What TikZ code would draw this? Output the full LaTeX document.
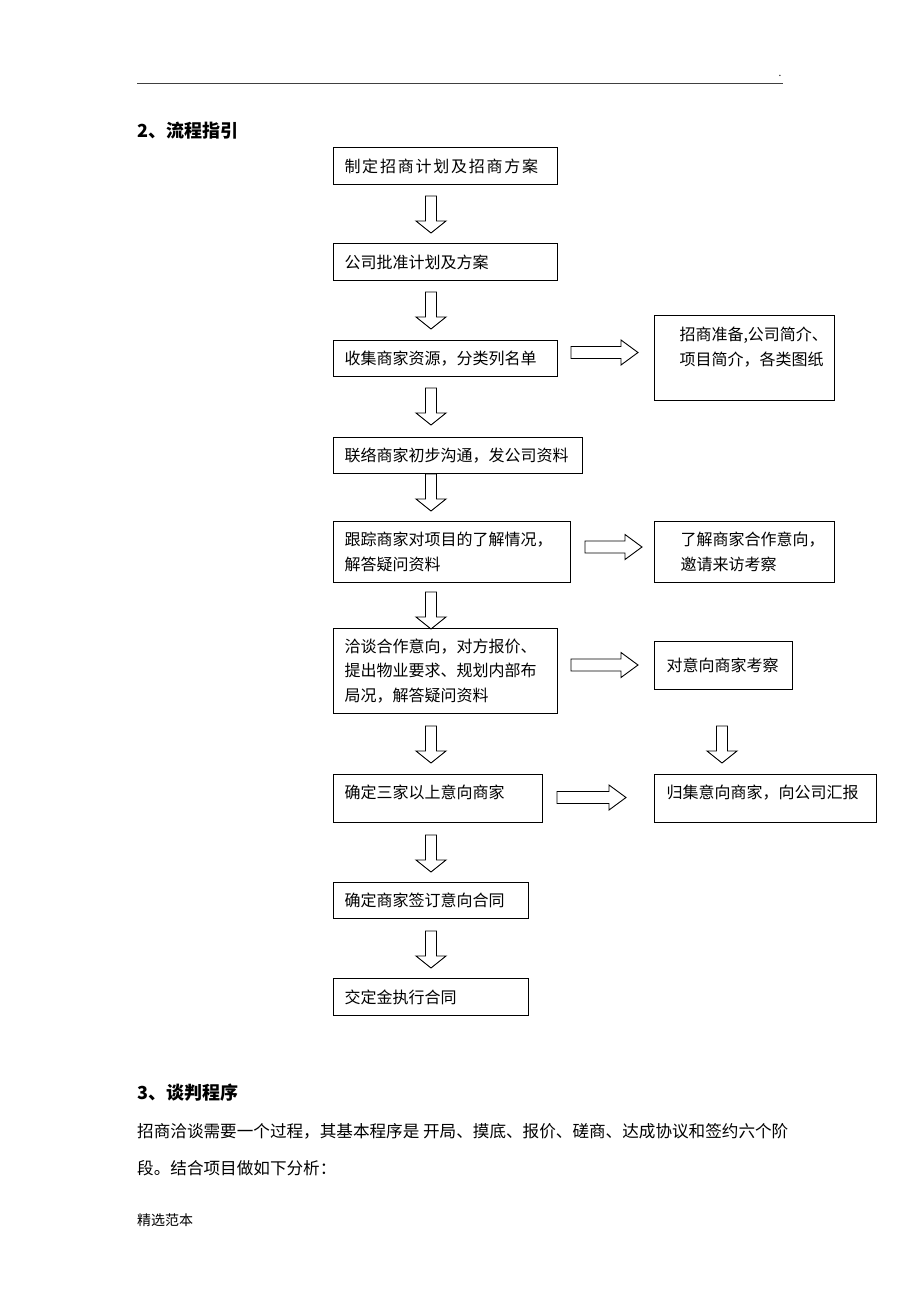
\documentclass[tikz,border=0pt]{standalone}
\usepackage{fontspec}
\setmainfont{Noto Sans CJK SC}
\usetikzlibrary{calc}

\newcommand\fs[1]{\fontsize{#1}{24.5}\selectfont}

\tikzset{
  box/.style={draw, line width=1pt, anchor=north west, inner ysep=0pt, inner xsep=11pt, align=left, font=\fs{16}},
  title/.style={anchor=west, inner sep=0pt, font=\fs{18}\bfseries},
  body/.style={anchor=west, inner sep=0pt, font=\fs{16.6}},
  pics/darr/.style={code={
    \draw[line width=0.9pt] (-5.5,0) -- (5.5,0) -- (5.5,25) -- (15,25) -- (0,37) -- (-15,25) -- (-5.5,25) -- cycle;}},
  pics/rarr/.style={code={
    \draw[line width=0.9pt] (0,-6) -- (#1-17,-6) -- (#1-17,-12.5) -- (#1,0) -- (#1-17,12.5) -- (#1-17,6) -- (0,6) -- cycle;}},
}

\begin{document}
\begin{tikzpicture}[x=1pt,y=-1pt]
  \useasboundingbox (0,0) rectangle (920,1302);
  \draw[line width=0.8pt, black!75] (137,83) -- (783,83);
  \node[font=\fs{10}, inner sep=0pt] (dot) at (780,76) {.};
  \node[title] (t2) at (137,131) {2、流程指引};

  % main column
  \node[box, text width=202, minimum height=37] (b1) at (333,147) {\addfontfeature{LetterSpace=11}制定招商计划及招商方案};
  \node[box, text width=202, minimum height=37] (b2) at (333,243) {公司批准计划及方案};
  \node[box, text width=202, minimum height=36] (b3) at (333,340) {收集商家资源，分类列名单};
  \node[box, text width=227, minimum height=36] (b4) at (333,437) {联络商家初步沟通，发公司资料};
  \node[box, text width=215, minimum height=61] (b5) at (333,521) {跟踪商家对项目的了解情况，\\解答疑问资料};
  \node[box, text width=202, minimum height=85] (b6) at (333,628) {洽谈合作意向，对方报价、\\提出物业要求、规划内部布\\局况，解答疑问资料};
  \node[box, text width=187, minimum height=48, text depth=14] (b7) at (333,774) {确定三家以上意向商家};
  \node[box, text width=173, minimum height=36] (b8) at (333,882) {确定商家签订意向合同};
  \node[box, text width=173, minimum height=37] (b9) at (333,978) {交定金执行合同};

  % side column
  \node[box, inner xsep=25pt, text width=130, minimum height=85, text depth=48] (sA) at (654,315) {招商准备,公司简介、\\项目简介，各类图纸};
  \node[box, inner xsep=26pt, text width=128, minimum height=61] (sB) at (654,521) {了解商家合作意向，\\邀请来访考察};
  \node[box, inner xsep=12pt, text width=114, minimum height=48] (sC) at (654,641) {对意向商家考察};
  \node[box, inner xsep=12pt, text width=198, minimum height=48, text depth=14] (sD) at (654,774) {归集意向商家，向公司汇报};

  \pic at ($(b1.south west)+(98,11)$) {darr};
  \pic at ($(b2.south west)+(98,11)$) {darr};
  \pic at ($(b3.south west)+(98,11)$) {darr};
  \pic at ($(b4.south west)+(98,0)$) {darr};
  \pic at ($(b5.south west)+(98,9)$) {darr};
  \pic at ($(b6.south west)+(98,12)$) {darr};
  \pic at ($(b7.south west)+(98,12)$) {darr};
  \pic at ($(b8.south west)+(98,12)$) {darr};
  \pic at ($(sC.south west)+(68,36)$) {darr};

  \pic at ($(b3.east)+(13,-6)$) {rarr=67};
  \pic at ($(b5.east)+(14,-5)$) {rarr=57};
  \pic at ($(b6.east)+(13,-6)$) {rarr=67};
  \pic at ($(b7.east)+(14,-1)$) {rarr=69};

  \node[title] (t3) at (137,1093) {3、谈判程序};
  \node[body] (p1) at (137,1131) {招商洽谈需要一个过程，其基本程序是 开局、摸底、报价、磋商、达成协议和签约六个阶};
  \node[body] (p2) at (137,1168) {段。结合项目做如下分析：};
  \node[anchor=west, inner sep=0pt, font=\fs{14}] (ft) at (137,1220) {精选范本};
\end{tikzpicture}
\end{document}
